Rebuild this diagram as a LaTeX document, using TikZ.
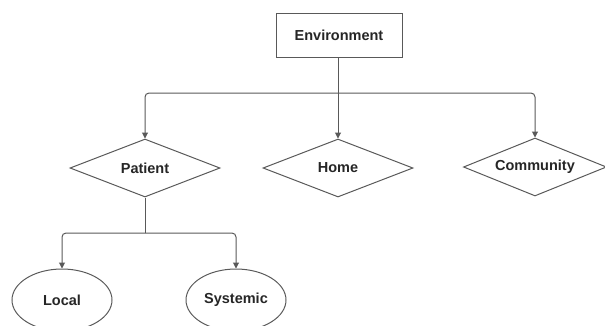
\documentclass[tikz,border=0pt]{standalone}
\usepackage{fontspec}
\setmainfont{Liberation Sans}
\usetikzlibrary{shapes.geometric,arrows.meta}
\begin{document}
\begin{tikzpicture}[x=1pt,y=-1pt,
  lbl/.style={font=\fontsize{14.5}{16}\selectfont\bfseries, text=black!85},
  boxnode/.style={lbl, draw=black!65, line width=1pt, minimum width=126pt, minimum height=44pt, inner sep=0pt},
  dia/.style={lbl, draw=black!65, line width=1pt, diamond, aspect=2.55, minimum width=150pt, minimum height=58pt, inner sep=0pt},
  ell/.style={lbl, draw=black!65, line width=1pt, ellipse, minimum width=100pt, minimum height=62pt, inner sep=0pt},
  conn/.style={draw=black!65, line width=1pt, rounded corners=4pt, -{Triangle[width=6pt,length=6pt]}}]
\useasboundingbox (0,0) rectangle (605,325);
\node[boxnode] (env) at (339,35) {Environment};
\node[dia] (patient) at (145,168) {Patient};
\node[dia] (home) at (338,168) {Home};
\node[dia, minimum width=143pt, aspect=2.45] (community) at (535,167) {Community};
\node[ell] (local) at (62,300) {Local};
\node[ell] (systemic) at (236,300) {Systemic};
\coordinate (j1) at (338,93);
\coordinate (j2) at (145,233);
\draw[conn] (env.south -| j1) -- (home.north);
\draw[conn] (j1) -| (patient.north);
\draw[conn] (j1) -| (community.north);
\draw[draw=black!65, line width=1pt] (patient.south) -- (j2);
\draw[conn] (j2) -| (local.north);
\draw[conn] (j2) -| (systemic.north);
\end{tikzpicture}
\end{document}
